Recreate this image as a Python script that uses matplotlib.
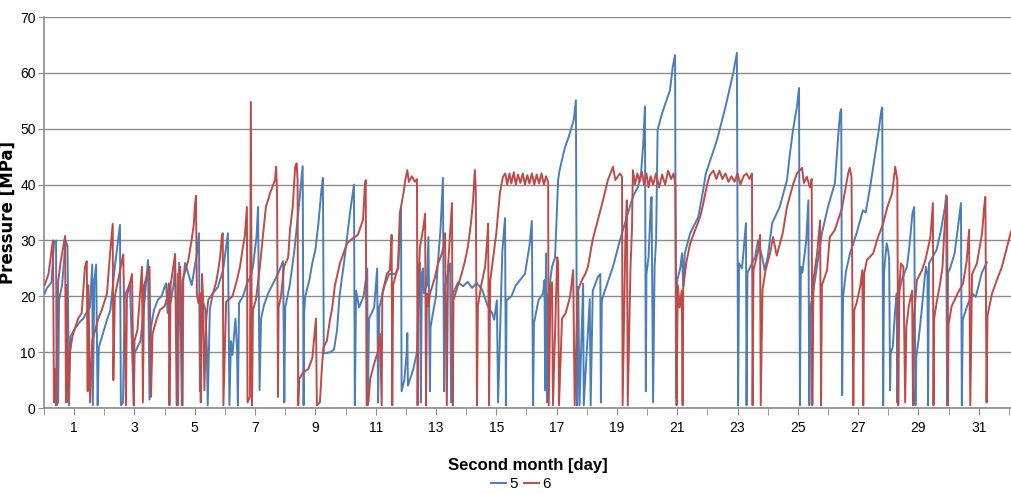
import matplotlib; matplotlib.use("Agg")
import matplotlib.pyplot as plt
from matplotlib.ticker import MultipleLocator

BLUE = "#4A7EBB"; RED = "#BE4B48"; GRID = "#8c8c8c"

# series "5" (blue): day, pressure [MPa]
day_5 = [0.02,0.1,0.25,0.33,0.4,0.42,0.47,0.5,0.6,0.72,0.78,0.83,0.88,1.0,1.2,1.3,1.45,1.52,1.6,1.62,
         1.67,1.73,1.78,1.82,2.09,2.2,2.35,2.52,2.55,2.62,2.68,2.85,2.98,3.0,3.2,3.3,3.45,3.5,3.55,3.65,
         3.78,3.9,4.0,4.05,4.1,4.2,4.3,4.35,4.45,4.48,4.6,4.62,4.68,4.9,5.0,5.07,5.14,5.17,5.2,5.35,
         5.4,5.43,5.5,5.6,5.77,5.94,6.1,6.15,6.2,6.25,6.35,6.4,6.43,6.47,6.6,6.73,6.85,6.93,7.05,7.1,
         7.15,7.2,7.3,7.43,7.6,7.76,7.93,7.97,8.0,8.15,8.3,8.45,8.58,8.61,8.63,8.66,8.8,8.9,9.0,9.1,
         9.2,9.25,9.28,9.5,9.62,9.72,9.8,9.95,10.15,10.28,10.31,10.35,10.45,10.6,10.72,10.74,10.78,10.95,11.05,11.08,
         11.12,11.3,11.45,11.65,11.75,11.78,11.84,11.86,11.95,12.03,12.05,12.07,12.25,12.37,12.42,12.47,12.5,12.53,12.57,12.6,
         12.7,12.75,12.8,12.82,12.9,13.0,13.05,13.15,13.23,13.27,13.3,13.35,13.47,13.5,13.56,13.73,13.9,14.05,14.2,14.35,
         14.53,14.7,14.86,14.93,15.02,15.06,15.2,15.29,15.32,15.34,15.5,15.65,15.8,15.95,16.1,16.18,16.22,16.25,16.4,16.55,
         16.6,16.62,16.65,16.68,16.72,16.85,16.95,17.05,17.1,17.28,17.4,17.57,17.64,17.68,17.72,17.76,17.88,17.9,18.1,18.13,
         18.2,18.37,18.45,18.47,18.5,18.6,18.87,19.1,19.3,19.53,19.7,19.8,19.87,19.93,19.96,19.98,20.05,20.12,20.15,20.2,
         20.25,20.3,20.35,20.5,20.76,20.85,20.93,20.96,21.0,21.1,21.16,21.2,21.25,21.43,21.7,21.86,21.95,22.32,22.6,22.86,
         22.98,23.02,23.05,23.15,23.28,23.3,23.33,23.58,23.68,23.82,23.9,24.0,24.15,24.4,24.64,24.74,24.84,24.97,25.04,25.07,
         25.1,25.15,25.28,25.35,25.38,25.42,25.5,25.7,25.8,26.0,26.23,26.33,26.4,26.44,26.47,26.5,26.6,26.73,26.95,27.16,
         27.25,27.4,27.57,27.67,27.77,27.8,27.83,27.86,27.9,27.95,28.0,28.03,28.06,28.08,28.15,28.22,28.28,28.3,28.33,28.45,
         28.62,28.7,28.8,28.86,28.9,28.93,29.0,29.1,29.2,29.25,29.3,29.32,29.35,29.6,29.75,29.88,29.92,29.95,29.98,30.05,
         30.2,30.3,30.41,30.44,30.47,30.6,30.78,30.9,31.0,31.1,31.27]
mpa_5 = [20.5,21.5,22.5,29.6,30,0.5,1,19.4,22,30,29,0.5,12.8,14,15.5,16,17.5,18,25.7,0.5,
         22.9,25.7,0.5,10.9,15.8,17.5,25.3,32.8,0.5,1,20.1,22.3,0.5,9.8,12,17,26.5,1.5,14.5,17.6,
         19.4,20,21.7,22.3,17,19,22,25.3,0.5,26,0.5,22.9,26,22,25.3,27.6,31.3,3,20.5,17.6,
         10.9,0.5,17.6,20.5,21.7,24.7,31.3,0.5,12,9.5,16,11,0.5,18.8,20,22.3,23.5,25.3,30.8,36,
         3.2,16,18.5,20.5,22.3,24,26.3,1,18,22,28,36,43.3,0.5,17,19.9,22.9,26,28.3,33,
         39,41.2,9.8,10,10.5,14,20,26,35,40,0.5,21,18,20,25,0.5,16,18,25,1,
         18,22,24,24,25,29,36,3,5,10,13.4,4,7,10,20,26,1,24,25,20.5,
         22,30.6,3,14.5,17,20,25,32,41.2,3,21.7,23,25.9,1,20.5,22.5,21.8,22.6,21.5,22.4,
         21.2,18.5,17,15.8,19.3,1,28,34,0.5,19.3,20,22,23,24,29,33.5,0.5,15.2,19.3,20.5,
         22.9,3.2,27.7,1,20,25.3,27,40.8,42.6,46.7,48.5,51.6,55.1,0.5,21.7,0.5,22.3,0.5,19.5,0.5,
         21,23.5,24,1,19.3,21,25.3,30,33.7,37.8,39.6,42,47,54,3,24,27,36,37.8,1,
         25.3,30,49.8,52.8,56.9,61,63.2,1.8,22.9,25,27.7,21.7,27.7,31.3,34.2,39,42,48,53.9,60,
         63.6,0.5,25.9,25,33.1,0.5,24.2,27,30,27,24.7,27,33.1,36,40.8,45.6,49.8,53.9,57.3,0.5,
         25.3,24.2,30,37.2,0.5,18.1,20.5,27.7,31.3,36,40.3,48,52.8,53.5,2.3,19.9,24.5,27.7,31.3,35.4,
         35,39.6,45.6,49.2,53.3,53.8,0.5,24.2,27,29.5,28,26.5,3.2,9.8,11,17,20.5,1,20,23,
         25.3,28.9,34.8,36,0.5,9.2,12,17,22.9,25.3,24,0.5,25.9,28.3,31.9,36,38.1,0.5,24.2,25,
         27.7,31.9,36.7,0.5,15.8,18,20.5,19.9,22,24.2,26.1]

# series "6" (red): day, pressure [MPa]
day_6 = [0.02,0.15,0.27,0.3,0.33,0.36,0.4,0.47,0.55,0.7,0.73,0.75,0.8,0.86,0.95,1.13,1.25,1.36,1.42,1.45,
         1.47,1.53,1.6,1.8,1.92,2.09,2.19,2.28,2.3,2.35,2.5,2.63,2.72,2.75,2.92,2.98,3.0,3.1,3.25,3.28,
         3.32,3.5,3.55,3.6,3.74,3.85,4.0,4.1,4.14,4.16,4.2,4.35,4.4,4.45,4.52,4.57,4.6,4.78,4.9,4.97,
         5.0,5.04,5.07,5.12,5.17,5.2,5.24,5.27,5.32,5.38,5.45,5.6,5.7,5.78,5.84,5.9,5.93,5.95,6.04,6.25,
         6.4,6.5,6.6,6.66,6.73,6.75,6.83,6.86,6.9,6.93,7.03,7.16,7.26,7.36,7.5,7.66,7.7,7.73,7.76,7.78,
         7.86,7.96,8.1,8.16,8.25,8.33,8.38,8.41,8.43,8.47,8.6,8.77,8.9,9.02,9.05,9.15,9.22,9.27,9.38,9.49,
         9.55,9.65,9.82,10.05,10.2,10.41,10.58,10.64,10.67,10.7,10.76,10.82,10.97,11.07,11.14,11.2,11.22,11.37,11.47,11.53,
         11.55,11.58,11.74,11.8,11.94,11.98,12.05,12.1,12.2,12.3,12.37,12.39,12.42,12.47,12.57,12.64,12.67,12.7,12.75,12.8,
         12.87,12.97,13.07,13.2,13.25,13.3,13.36,13.4,13.47,13.53,13.56,13.58,13.73,13.85,13.96,14.06,14.16,14.23,14.29,14.32,
         14.36,14.39,14.5,14.63,14.7,14.73,14.76,14.8,14.9,15.0,15.06,15.12,15.22,15.3,15.36,15.44,15.5,15.58,15.65,15.72,
         15.8,15.88,15.95,16.03,16.1,16.18,16.26,16.34,16.42,16.5,16.58,16.65,16.72,16.74,16.8,16.85,16.88,17.02,17.05,17.08,
         17.18,17.3,17.45,17.55,17.6,17.7,17.84,17.95,18.04,18.2,18.37,18.54,18.7,18.87,18.95,19.1,19.17,19.19,19.28,19.33,
         19.36,19.45,19.5,19.53,19.6,19.68,19.75,19.83,19.9,19.98,20.05,20.12,20.2,20.3,20.4,20.5,20.6,20.7,20.8,20.88,
         20.94,20.96,20.98,21.02,21.08,21.15,21.18,21.2,21.3,21.43,21.6,21.76,21.86,21.99,22.08,22.2,22.3,22.4,22.5,22.6,
         22.7,22.8,22.9,23.0,23.1,23.2,23.3,23.4,23.48,23.5,23.53,23.68,23.75,23.77,23.83,23.93,24.08,24.18,24.3,24.4,
         24.5,24.64,24.84,24.97,25.14,25.2,25.3,25.4,25.46,25.48,25.52,25.64,25.74,25.77,25.8,25.97,26.06,26.23,26.46,26.56,
         26.67,26.72,26.78,26.84,26.87,26.95,27.07,27.14,27.17,27.2,27.29,27.5,27.66,27.83,27.97,28.13,28.23,28.3,28.33,28.37,
         28.42,28.5,28.56,28.6,28.68,28.79,28.82,28.85,28.95,29.12,29.22,29.33,29.4,29.48,29.5,29.52,29.62,29.72,29.8,29.85,
         29.9,29.95,29.98,30.0,30.1,30.3,30.48,30.6,30.68,30.72,30.78,30.94,31.11,31.18,31.22,31.26,31.29,31.44,31.6,31.77,
         31.94,32.07]
mpa_6 = [22,24,29,30,1,7,0.5,22.7,26,30.8,1,22,1,10,13,16,17,25.3,26.3,3,
         22,1,12,16,17.6,20.5,27.6,33,5,20,24,27.5,0.5,20,24,0.5,12,14,25.3,1,
         22,25.3,2,13.3,16,17.6,18.2,20,22.3,0.5,22,27.6,0.5,24,25.3,0.5,22.9,26.3,30.2,33,
         36,38,20.5,18.8,20.5,1,24,20.5,3.2,16,19.4,20.5,22.3,24.7,27,30.8,31.3,0.5,19,20,
         22.9,25.3,28.9,30.8,36,1,2,54.8,0.5,17.6,19.4,25.3,30.8,36,38.5,40.8,43.2,38.5,2,18,
         20,25.3,27,32,36,43.2,43.8,40.8,0.5,5.3,6.4,7,9,16,0.5,1,7.5,10.9,12,16,
         17.6,22,26,29.5,30.2,31,33.7,39.6,40.8,0.5,1,5.3,8.3,10,13.3,0.5,20.5,24,24.7,31,
         0.5,22,25.3,34.8,39,40.8,42.6,40.5,41.5,40.5,41,0.5,22.9,28.9,31.9,34.8,0.5,20.5,18.2,20.5,
         21.7,23.5,25.9,27.7,28.9,31.3,0.5,25.3,31.3,36.7,0.5,19.4,22,24,26.3,28.9,33.1,37.2,42.6,39,
         0.5,18.2,22,25.3,30.2,33,0.5,22.9,27,31.3,34.8,38.5,41.4,42,40,42,40.2,42.2,40,41.8,
         40.3,42,40,41.7,40.2,42,40,41.8,40.2,42,40,41.5,40.5,0.5,22,22.5,0.5,27,26,0.5,
         16,17,20,24.7,0.5,21,22.9,24,25.3,30.2,33.7,37.2,40.8,43.2,40.8,42,41.4,0.5,30,37.2,
         0.5,25,32,42.6,40,42,40.5,42.3,40,42,39.5,41.5,40,42,39.5,41.8,40,42.5,41,42,
         40,22.3,0.5,22,18,21,0.5,21.5,26,29.5,31.9,34.2,36.5,40,41.7,42.5,41,42.5,41,42,
         40.5,41.5,40.5,42,40,41.5,42,41,42,0.5,24.7,28,31,0.5,21.2,24.7,27.7,30.6,27.3,29.3,
         31.3,36,40,42,43,40.3,41.4,39.5,41,0.5,23,27.7,33.6,0.5,22,24.7,30.6,31.9,35.7,38.7,
         42,43,41.4,0.5,17.5,18.8,21.8,24.7,0.5,24,26.5,27.7,30.6,33,36,38.5,43.2,40.8,0.5,22,
         25.9,25.3,1,14.5,18.2,21,0.5,16,22.9,24.7,26.3,28.9,30.8,36.7,0.5,16,19.4,22.3,25.3,30.8,
         34.8,37.8,0.5,15,18.2,20.5,22.3,26.3,31.9,0.5,24,25.9,31.3,36,37.8,1,16.5,20.5,22.9,25.3,
         28.9,31.6]

day_ticks = list(range(1, 32, 2))

plt.rcParams["font.family"] = ["Liberation Sans", "DejaVu Sans"]

fig = plt.figure(figsize=(10.11, 4.94), dpi=100)
ax = fig.add_axes([0.0435, 0.174, 0.9565, 0.7915])

ax.plot(day_5, mpa_5, color=BLUE, lw=1.4, label="5", zorder=3)
ax.plot(day_6, mpa_6, color=RED, lw=1.4, label="6", zorder=3)

ax.set_xlim(0, 32.07)
ax.set_ylim(0, 70)
ax.yaxis.set_major_locator(MultipleLocator(10))
ax.set_xticks(day_ticks)
ax.xaxis.set_minor_locator(MultipleLocator(1))
ax.grid(axis="y", color=GRID, lw=1.0, zorder=0)
for s in ("top", "right"):
    ax.spines[s].set_visible(False)
for s in ("left", "bottom"):
    ax.spines[s].set_color(GRID)
    ax.spines[s].set_linewidth(1.2)
ax.tick_params(axis="y", length=4, color=GRID, labelsize=10, pad=2)
ax.tick_params(axis="x", which="both", length=5, color=GRID, labelsize=10, pad=4)

ax.set_ylabel("Pressure [MPa]", fontsize=12, fontweight="bold", family=["DejaVu Sans"])
ax.yaxis.set_label_coords(-0.028, 0.5)
ax.set_xlabel("Second month [day]", fontsize=12, fontweight="bold")
ax.xaxis.set_label_coords(0.5, -0.128)

fig.legend(loc="center", bbox_to_anchor=(0.515, 0.02), ncol=2, frameon=False,
           handlelength=1.0, handletextpad=0.2, columnspacing=0.4, fontsize=11)

plt.savefig("out.png", dpi=100)
